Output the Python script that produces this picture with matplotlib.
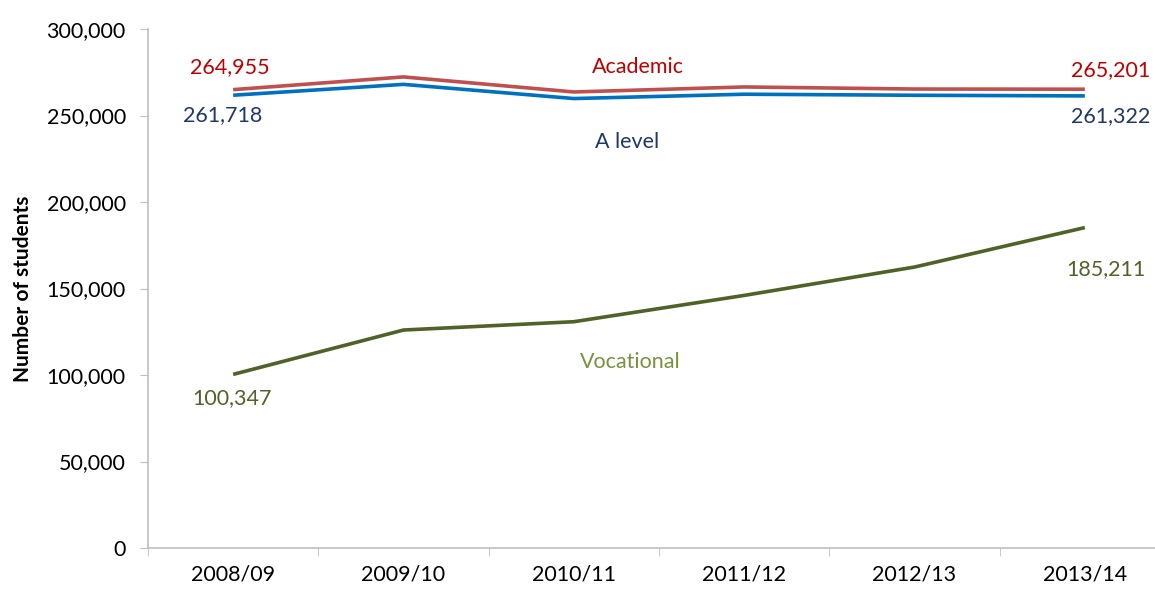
import matplotlib
matplotlib.use('Agg')
import matplotlib.pyplot as plt
from matplotlib.ticker import StrMethodFormatter

years = ['2008/09', '2009/10', '2010/11', '2011/12', '2012/13', '2013/14']
academic = [264955, 272300, 263600, 266500, 265300, 265201]
a_level = [261718, 268000, 259800, 262300, 261700, 261322]
vocational = [100347, 126000, 130800, 146000, 162400, 185211]

red_line = '#C0504D'
red_text = '#C00000'
blue_line = '#0070C0'
blue_text = '#1F3864'
green_line = '#4F6228'
green_text = '#77933C'
axis_gray = '#BFBFBF'
fs = 15.5

plt.rcParams['font.family'] = ['Lato', 'DejaVu Sans']

fig = plt.figure(figsize=(11.55, 5.9), dpi=100)
ax = fig.add_axes([148 / 1155, 42 / 590, 1022 / 1155, 519 / 590])

x = list(range(len(years)))
ax.plot(x, academic, color=red_line, lw=2.6, solid_capstyle='butt', zorder=3)
ax.plot(x, a_level, color=blue_line, lw=2.6, solid_capstyle='butt', zorder=3)
ax.plot(x, vocational, color=green_line, lw=2.6, solid_capstyle='butt', zorder=3)

ax.set_xlim(-0.5, len(years) - 0.5)
ax.set_ylim(0, 300000)
ax.set_yticks(range(0, 300001, 50000))
ax.yaxis.set_major_formatter(StrMethodFormatter('{x:,.0f}'))
ax.set_xticks(x)
ax.set_xticklabels(years)
# category boundary ticks
ax.set_xticks([i - 0.5 for i in range(len(years) + 1)], minor=True)
ax.tick_params(axis='x', which='major', length=0, pad=12, labelsize=fs)
ax.tick_params(axis='x', which='minor', length=6, color=axis_gray, direction='out')
ax.tick_params(axis='y', length=6, color=axis_gray, labelsize=fs, pad=10)

for s in ['top', 'right']:
	ax.spines[s].set_visible(False)
for s in ['left', 'bottom']:
	ax.spines[s].set_color(axis_gray)
	ax.spines[s].set_linewidth(1.2)
ax.spines['bottom'].set_zorder(4)

ax.set_ylabel('Number of students', fontsize=15, fontweight='bold', labelpad=10)

def label(xi, val, dx, dy, color):
	ax.annotate(f'{val:,}', (xi, val), xytext=(dx, dy), textcoords='offset pixels',
				ha='center', va='center', color=color, fontsize=fs)

label(0, academic[0], -3, 23, red_text)
label(0, a_level[0], -11, -20, blue_text)
label(5, academic[-1], 26, 19, red_text)
label(5, a_level[-1], 26, -20, blue_text)
label(5, vocational[-1], 21, -42, green_line)
label(0, vocational[0], -1, -24, green_line)

ax.text(2.376, 278000, 'Academic', color=red_text, fontsize=fs, ha='center', va='center')
ax.text(2.31, 234700, 'A level', color=blue_text, fontsize=fs, ha='center', va='center')
ax.text(2.33, 107500, 'Vocational', color=green_text, fontsize=fs, ha='center', va='center')

fig.savefig('out.png', dpi=100)
